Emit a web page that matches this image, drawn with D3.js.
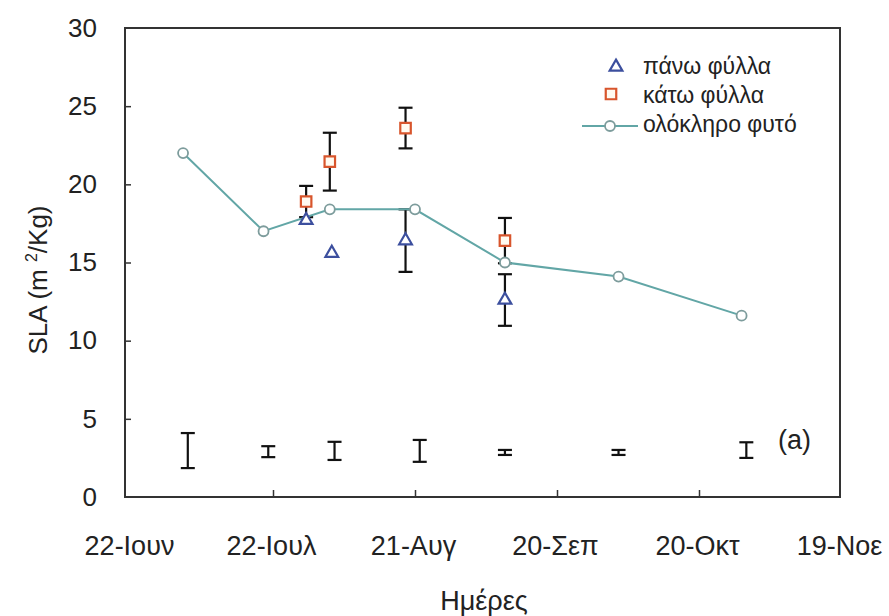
<!DOCTYPE html>
<html>
<head>
<meta charset="utf-8">
<script src="https://cdn.jsdelivr.net/npm/d3@7"></script>
<style>
  body { margin: 0; background: #fff; }
  svg { display: block; font-family: "Liberation Sans", Arial, sans-serif; }
</style>
</head>
<body>
<svg id="chart" width="889" height="616"></svg>
<script>
// whole plant (line), dates as "MM-DD" in one season
const plantDates = ["07-03", "07-20", "08-03", "08-21", "09-09", "10-03", "10-29"];
const plantSLA = [22.0, 17.0, 18.4, 18.4, 15.0, 14.1, 11.6];

// lower leaves (squares) with +/- error
const lowerDates = ["07-29", "08-03", "08-19", "09-09"];
const lowerSLA = [18.9, 21.45, 23.6, 16.4];
const lowerErr = [1.0, 1.85, 1.3, 1.45];

// upper leaves (triangles) with +/- error
const upperDates = ["07-29", "08-03", "08-19", "09-09"];
const upperSLA = [17.7, 15.6, 16.4, 12.6];
const upperErr = [0, 0, 2.0, 1.65];

// LSD bars near the bottom
const lsdDates = ["07-04", "07-21", "08-04", "08-22", "09-09", "10-03", "10-30"];
const lsdMid = [2.97, 2.9, 2.95, 2.95, 2.85, 2.85, 3.0];
const lsdHalf = [1.12, 0.35, 0.58, 0.7, 0.16, 0.16, 0.5];

const tickDates = ["06-22", "07-22", "08-21", "09-20", "10-20", "11-19"];
const tickLabels = ["22-Ιουν", "22-Ιουλ", "21-Αυγ", "20-Σεπ", "20-Οκτ", "19-Νοε"];
const yTicks = [0, 5, 10, 15, 20, 25, 30];

const legendLabels = ["πάνω φύλλα", "κάτω φύλλα", "ολόκληρο φυτό"];

const parse = s => d3.timeParse("%Y-%m-%d")("2004-" + s);

const svg = d3.select("#chart");
const box = {left: 125, top: 28, right: 840, bottom: 497};

const x = d3.scaleTime()
    .domain([parse("06-22"), parse("11-19")])
    .range([131, 841]);
const y = d3.scaleLinear().domain([0, 30]).range([box.bottom, box.top]);

const ink = "#222";
const lineCol = "#62a6a6";
const triCol = "#3c4f9e";
const sqCol = "#d8552c";

// frame
svg.append("rect")
    .attr("x", box.left).attr("y", box.top)
    .attr("width", box.right - box.left).attr("height", box.bottom - box.top)
    .attr("fill", "none").attr("stroke", "#333").attr("stroke-width", 2);

// y axis
const yAxis = svg.append("g")
    .attr("transform", `translate(${box.left},0)`)
    .call(d3.axisLeft(y).tickValues(yTicks).tickSize(-6).tickPadding(28));
yAxis.select(".domain").remove();
yAxis.selectAll("line").attr("stroke", "#333").attr("stroke-width", 1.5)
    .filter(d => d === 0 || d === 30).remove();
yAxis.selectAll("text").attr("font-size", 26).attr("fill", ink)
    .attr("font-family", "Liberation Sans, Arial, sans-serif");

// x axis
const xAxis = svg.append("g")
    .attr("transform", `translate(0,${box.bottom})`)
    .call(d3.axisBottom(x).tickValues(tickDates.map(parse))
        .tickFormat((d, i) => tickLabels[i]).tickSize(-7).tickPadding(39));
xAxis.select(".domain").remove();
xAxis.selectAll("line").attr("stroke", "#333").attr("stroke-width", 1.5)
    .filter((d, i) => i === 0 || i === tickDates.length - 1).remove();
xAxis.selectAll("text").attr("font-size", 27).attr("fill", ink)
    .attr("font-family", "Liberation Sans, Arial, sans-serif")
    .attr("dx", -2);

// axis titles
svg.append("text")
    .attr("x", 484).attr("y", 610)
    .attr("text-anchor", "middle").attr("font-size", 27).attr("fill", ink)
    .text("Ημέρες");

const yTitle = svg.append("text")
    .attr("transform", "translate(47,280) rotate(-90)")
    .attr("text-anchor", "middle").attr("font-size", 26).attr("fill", ink);
yTitle.append("tspan").text("SLA (m  ");
yTitle.append("tspan").attr("font-size", 16).attr("dy", -10).text("2");
yTitle.append("tspan").attr("dy", 10).text("/Kg)");

svg.append("text")
    .attr("x", 778).attr("y", 449)
    .attr("font-size", 27).attr("fill", ink)
    .text("(a)");

// error bar helper
function errBar(g, cx, lo, hi, cap) {
    g.append("line").attr("x1", cx).attr("x2", cx).attr("y1", y(lo)).attr("y2", y(hi));
    g.append("line").attr("x1", cx - cap).attr("x2", cx + cap).attr("y1", y(lo)).attr("y2", y(lo));
    g.append("line").attr("x1", cx - cap).attr("x2", cx + cap).attr("y1", y(hi)).attr("y2", y(hi));
}

const bars = svg.append("g").attr("stroke", "#111").attr("stroke-width", 2.2);
lsdDates.forEach((d, i) => errBar(bars, x(parse(d)), lsdMid[i] - lsdHalf[i], lsdMid[i] + lsdHalf[i], 7));
lowerDates.forEach((d, i) => {
    if (lowerErr[i] > 0) errBar(bars, x(parse(lowerDates[i])), lowerSLA[i] - lowerErr[i], lowerSLA[i] + lowerErr[i], 7);
});
upperDates.forEach((d, i) => {
    if (upperErr[i] > 0) errBar(bars, x(parse(upperDates[i])), upperSLA[i] - upperErr[i], upperSLA[i] + upperErr[i], 7);
});

// whole plant line
const plant = plantDates.map((d, i) => ({x: x(parse(d)), y: y(plantSLA[i])}));
svg.append("path")
    .datum(plant)
    .attr("fill", "none").attr("stroke", lineCol).attr("stroke-width", 2)
    .attr("d", d3.line().x(d => d.x).y(d => d.y));
svg.append("g").selectAll("circle")
    .data(plant).join("circle")
    .attr("cx", d => d.x).attr("cy", d => d.y).attr("r", 5)
    .attr("fill", "#fff").attr("stroke", "#7d9c9c").attr("stroke-width", 1.8);

// markers
const triSym = d3.symbol().type(d3.symbolTriangle).size(70);
const sqSym = d3.symbol().type(d3.symbolSquare).size(110);

svg.append("g").selectAll("path")
    .data(lowerDates.map((d, i) => ({x: x(parse(d)), y: y(lowerSLA[i])})))
    .join("path")
    .attr("transform", d => `translate(${d.x},${d.y})`)
    .attr("d", sqSym)
    .attr("fill", "#fffaf0").attr("stroke", sqCol).attr("stroke-width", 2.2);

svg.append("g").selectAll("path")
    .data(upperDates.map((d, i) => ({x: x(parse(d)) + (i === 1 ? 2 : 0), y: y(upperSLA[i])})))
    .join("path")
    .attr("transform", d => `translate(${d.x},${d.y})`)
    .attr("d", triSym)
    .attr("fill", "#fff").attr("stroke", triCol).attr("stroke-width", 2.2);

// legend
const leg = svg.append("g").attr("font-size", 23).attr("fill", ink);
leg.append("path").attr("transform", "translate(616,67)").attr("d", triSym)
    .attr("fill", "#fff").attr("stroke", triCol).attr("stroke-width", 2.2);
leg.append("path").attr("transform", "translate(611,94)").attr("d", sqSym)
    .attr("fill", "#fffaf0").attr("stroke", sqCol).attr("stroke-width", 2.2);
leg.append("line").attr("x1", 582).attr("x2", 638).attr("y1", 126).attr("y2", 126)
    .attr("stroke", lineCol).attr("stroke-width", 2);
leg.append("circle").attr("cx", 610).attr("cy", 126).attr("r", 5)
    .attr("fill", "#fff").attr("stroke", "#7d9c9c").attr("stroke-width", 1.8);
legendLabels.forEach((t, i) => {
    leg.append("text").attr("x", 643).attr("y", 74 + i * 29).text(t);
});
</script>
</body>
</html>
